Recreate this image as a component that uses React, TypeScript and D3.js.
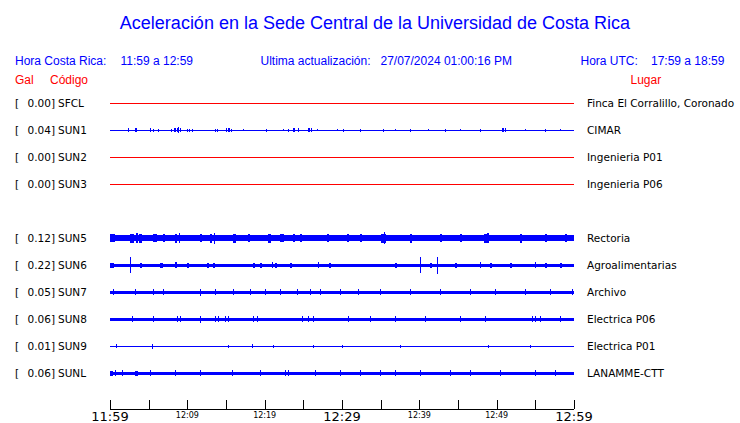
import React from "react";
import * as d3 from "d3";

const title = "Aceleración en la Sede Central de la Universidad de Costa Rica";
const codes = ["SFCL", "SUN1", "SUN2", "SUN3", "", "SUN5", "SUN6", "SUN7", "SUN8", "SUN9", "SUNL"];
const places = ["Finca El Corralillo, Coronado", "CIMAR", "Ingenieria P01", "Ingenieria P06", "", "Rectoria", "Agroalimentarias", "Archivo", "Electrica P06", "Electrica P01", "LANAMME-CTT"];
const gals = ["0.00", "0.04", "0.00", "0.00", "", "0.12", "0.22", "0.05", "0.06", "0.01", "0.06"];
const active = [false, true, false, false, false, true, true, true, true, true, true];
// baseline half-amplitude of each trace band
const baseHalf = [0.5, 0.5, 0.5, 0.5, 0, 3, 1.5, 1.5, 1.5, 0.5, 1.5];
// bursts: [minute, half amplitude, duration in minutes]
const burstsSUN1 = [[2.33, 2, 0.1], [3.23, 2, 0.3], [5.17, 2, 0.1], [5.56, 1.5, 0.1], [6.21, 1.5, 0.1], [7.89, 1.5, 0.1], [8.3, 2, 0.2], [8.63, 2, 0.2], [8.85, 3, 0.1], [9.05, 2, 0.15], [9.96, 1.5, 0.1], [10.2, 1.5, 0.1], [10.6, 1.5, 0.1], [13.58, 1.5, 0.1], [13.8, 1.5, 0.1], [15.0, 2, 0.15], [15.26, 2, 0.2], [15.6, 1.5, 0.1], [17.2, 1, 0.1], [20.17, 1.5, 0.1], [22.4, 1, 0.1], [23.02, 1.5, 0.1], [23.66, 2, 0.2], [24.3, 2, 0.1], [25.6, 2, 0.2], [26.0, 2, 0.15], [26.8, 1, 0.1], [29.4, 1, 0.1], [30.1, 1.5, 0.1], [32.33, 1.5, 0.1], [35.3, 1.5, 0.15], [36.86, 1, 0.1], [38.8, 1.5, 0.1], [41.12, 1, 0.1], [43.32, 1.5, 0.15], [45.26, 1, 0.1], [47.85, 1.5, 0.1], [50.69, 2, 0.3], [51.1, 2, 0.15], [53.67, 1, 0.1], [56.25, 1.5, 0.1], [58.19, 1, 0.1]];
const burstsSUN5 = [[0.0, 4, 0.6], [2.59, 4.5, 0.5], [3.3, 5, 0.3], [3.8, 4.5, 0.3], [5.56, 4, 0.5], [6.85, 4, 0.2], [8.41, 4.5, 0.3], [8.9, 5, 0.2], [11.64, 4, 0.2], [12.93, 4.5, 0.3], [13.4, 5.5, 0.15], [15.91, 4.5, 0.4], [17.85, 4, 0.2], [20.43, 4.5, 0.4], [21.98, 4, 0.5], [23.66, 4, 0.2], [24.57, 4, 0.2], [28.06, 4, 0.2], [30.65, 4, 0.2], [32.33, 4, 0.3], [35.0, 4.5, 0.7], [35.4, 6, 0.15], [38.8, 4.5, 0.3], [42.67, 4, 0.3], [45.26, 4, 0.3], [48.3, 4.5, 0.5], [48.8, 5, 0.15], [53.02, 4.5, 0.3], [56.25, 4, 0.3], [58.84, 4, 0.3]];
const burstsSUN6 = [[0.0, 2.5, 0.5], [2.59, 8, 0.05], [3.88, 2.5, 0.3], [6.47, 2.5, 0.4], [8.41, 3, 0.2], [9.96, 2.5, 0.3], [12.54, 2.5, 0.3], [13.32, 2.5, 0.2], [18.49, 2.5, 0.3], [19.4, 2.5, 0.2], [20.95, 3, 0.1], [21.34, 2.5, 0.2], [23.28, 2.5, 0.3], [26.9, 3, 0.1], [28.32, 2.5, 0.3], [36.86, 2.5, 0.3], [40.09, 8, 0.05], [41.38, 2.5, 0.3], [42.25, 8.5, 0.05], [44.61, 2.5, 0.3], [47.85, 3, 0.1], [49.14, 2.5, 0.3], [51.73, 2.5, 0.3], [54.96, 3, 0.1], [56.25, 2.5, 0.3], [58.19, 2.5, 0.2]];
const burstsSUN7 = [[0.39, 3, 0.1], [3.23, 3, 0.1], [5.56, 3, 0.1], [6.85, 3, 0.1], [11.64, 3.5, 0.1], [13.58, 3, 0.1], [15.91, 3, 0.1], [18.1, 3, 0.1], [20.04, 3, 0.1], [21.98, 3, 0.1], [24.18, 3, 0.1], [25.86, 3, 0.1], [27.16, 3, 0.1], [29.74, 3, 0.1], [32.07, 3, 0.1], [34.92, 3, 0.1], [38.8, 3, 0.1], [42.67, 3, 0.1], [46.55, 3, 0.1], [49.79, 3, 0.1], [53.67, 3, 0.1], [56.9, 3, 0.1], [59.75, 3, 0.1]];
const burstsSUN8 = [[2.81, 3, 0.1], [5.56, 3, 0.1], [8.63, 3, 0.1], [9.05, 3, 0.1], [11.64, 3.5, 0.15], [13.58, 3, 0.1], [13.97, 3, 0.1], [14.87, 3, 0.1], [15.26, 3, 0.1], [18.49, 3, 0.1], [19.01, 3, 0.1], [24.83, 3, 0.1], [25.6, 3, 0.1], [26.25, 3, 0.1], [30.78, 3, 0.1], [33.62, 3, 0.1], [36.86, 3, 0.1], [40.73, 3, 0.1], [45.26, 3, 0.1], [48.49, 3, 0.1], [54.57, 3, 0.1], [54.96, 3, 0.1], [55.61, 3, 0.1], [58.19, 3, 0.1]];
const burstsSUN9 = [[0.74, 2, 0.1], [5.47, 2.5, 0.15], [15.26, 1.5, 0.1], [18.32, 2, 0.1], [21.12, 1.5, 0.1], [26.25, 1.5, 0.1], [30.0, 1.5, 0.1], [37.5, 1.5, 0.1], [48.88, 1.5, 0.1], [54.31, 1.5, 0.1]];
const burstsSUNL = [[0.0, 2.5, 0.4], [0.65, 3, 0.1], [1.51, 3, 0.1], [3.2, 2.5, 0.4], [5.17, 3, 0.1], [8.41, 3, 0.1], [11.64, 3, 0.1], [15.74, 3, 0.1], [19.4, 3, 0.1], [22.63, 3, 0.1], [23.02, 3, 0.1], [26.51, 3, 0.1], [29.74, 3, 0.1], [32.33, 3, 0.1], [34.92, 3, 0.1], [36.86, 3, 0.1], [40.09, 3, 0.1], [43.97, 3, 0.1], [46.55, 3, 0.1], [50.43, 3, 0.1], [54.96, 3, 0.1], [57.55, 3, 0.1]];
const bursts = [[], burstsSUN1, [], [], [], burstsSUN5, burstsSUN6, burstsSUN7, burstsSUN8, burstsSUN9, burstsSUNL];
const tickMinutes = [0, 5, 10, 15, 20, 25, 30, 35, 40, 45, 50, 55, 60];
const tickLabels: Record<number, string> = { 0: "11:59", 10: "12:09", 20: "12:19", 30: "12:29", 40: "12:39", 50: "12:49", 60: "12:59" };
const bigLabels = [0, 30, 60];

export default function App() {
  const W = 740, H = 423;
  const x = d3.scaleLinear().domain([0, 60]).range([110, 574]);
  const y = d3.scaleLinear().domain([0, 10]).range([103, 373]);
  const blue = "#0000ff", red = "#ff0000";
  const hdr = { fontFamily: "'Liberation Sans', Arial, sans-serif", fontSize: 12 };
  const dv = "'DejaVu Sans', sans-serif";
  return (
    <svg width={W} height={H} style={{ position: "absolute", left: 0, top: 0, background: "#fff" }}>
      <text x={375} y={29} textAnchor="middle" fill={blue} style={{ fontFamily: "'Liberation Sans', Arial, sans-serif", fontSize: 18 }}>{title}</text>
      <g fill={blue} style={hdr}>
        <text x={15} y={65}>Hora Costa Rica:</text>
        <text x={120.5} y={65}>11:59 a 12:59</text>
        <text x={260.5} y={65}>Ultima actualización:</text>
        <text x={380.5} y={65}>27/07/2024 01:00:16 PM</text>
        <text x={580.5} y={65}>Hora UTC:</text>
        <text x={651} y={65}>17:59 a 18:59</text>
      </g>
      <g fill={red} style={hdr}>
        <text x={15} y={84}>Gal</text>
        <text x={50} y={84}>Código</text>
        <text x={630.5} y={84}>Lugar</text>
      </g>
      {codes.map((c, i) => {
        if (!c) return null;
        const cy = y(i);
        const col = active[i] ? blue : red;
        return (
          <g key={c}>
            <g style={{ fontFamily: dv, fontSize: 10.5 }} fill="#000">
              <text x={15} y={cy + 4}>[</text>
              <text x={55} y={cy + 4} textAnchor="end">{gals[i] + "]"}</text>
              <text x={58} y={cy + 4}>{c}</text>
              <text x={587} y={cy + 4}>{places[i]}</text>
            </g>
            <g fill={col} shapeRendering="crispEdges">
              <rect x={x(0)} y={cy - baseHalf[i]} width={x(60) - x(0)} height={baseHalf[i] * 2} />
              {(bursts[i] as number[][]).map((b, k) => (
                <rect key={k} x={x(b[0])} y={cy - b[1]} width={Math.max(1, x(b[0] + b[2]) - x(b[0]))} height={b[1] * 2} />
              ))}
            </g>
          </g>
        );
      })}
      <g shapeRendering="crispEdges" stroke="#000">
        <line x1={x(0)} x2={x(60)} y1={409.5} y2={409.5} />
        {tickMinutes.map((m) => (
          <line key={m} x1={Math.round(x(m)) + 0.5} x2={Math.round(x(m)) + 0.5} y1={400} y2={409} />
        ))}
      </g>
      {tickMinutes.filter((m) => tickLabels[m]).map((m) => {
        const big = bigLabels.includes(m);
        return (
          <text key={m} x={x(m)} y={big ? 421 : 418} textAnchor="middle" fill="#000" style={{ fontFamily: dv, fontSize: big ? 13 : 8 }}>{tickLabels[m]}</text>
        );
      })}
    </svg>
  );
}
